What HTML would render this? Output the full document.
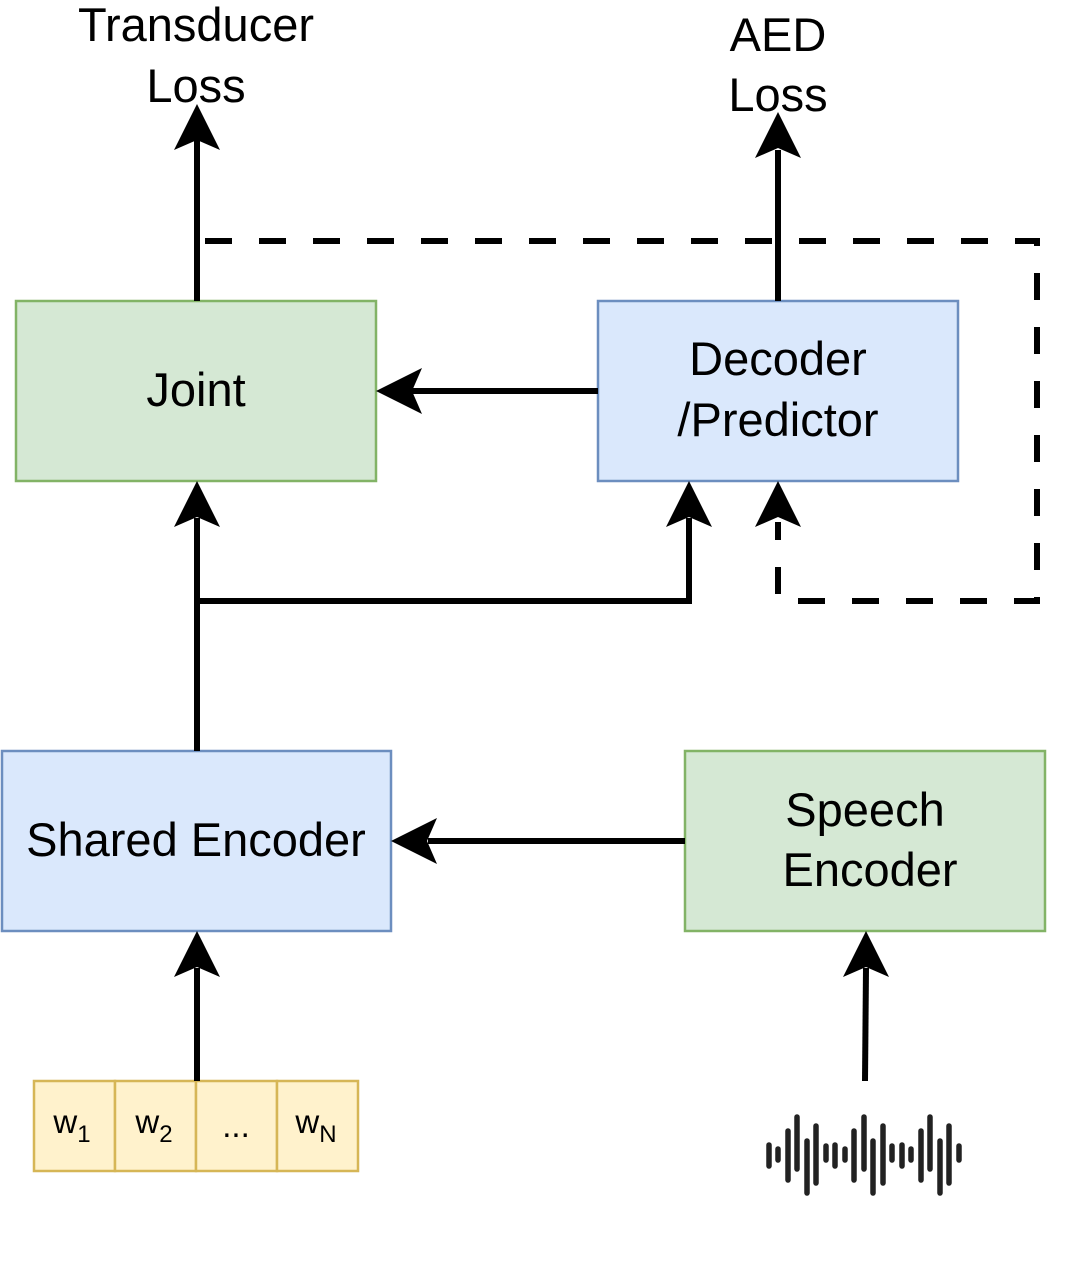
<!DOCTYPE html>
<html><head><meta charset="utf-8"><style>
html,body{margin:0;padding:0;background:#fff;}
svg{display:block;}
text{font-family:"Liberation Sans",Arial,sans-serif;fill:#000;}
</style></head><body>
<svg width="1065" height="1263" viewBox="0 0 1065 1263" xmlns="http://www.w3.org/2000/svg">
<rect x="16" y="301" width="360" height="180" fill="#d5e8d4" stroke="#82b366" stroke-width="2.5"/>
<rect x="598" y="301" width="360" height="180" fill="#dae8fc" stroke="#6c8ebf" stroke-width="2.5"/>
<rect x="2" y="751" width="389" height="180" fill="#dae8fc" stroke="#6c8ebf" stroke-width="2.5"/>
<rect x="685" y="751" width="360" height="180" fill="#d5e8d4" stroke="#82b366" stroke-width="2.5"/>
<g fill="#fff2cc" stroke="#d6b656" stroke-width="2.5">
<rect x="34" y="1081" width="81" height="90"/>
<rect x="115" y="1081" width="81" height="90"/>
<rect x="196" y="1081" width="81" height="90"/>
<rect x="277" y="1081" width="81" height="90"/>
</g>
<g font-size="47" text-anchor="middle">
<text x="196" y="41">Transducer</text>
<text x="196" y="102">Loss</text>
<text x="778" y="51">AED</text>
<text x="778" y="111">Loss</text>
<text x="196" y="406">Joint</text>
<text x="778" y="375">Decoder</text>
<text x="778" y="436">/Predictor</text>
<text x="196" y="856">Shared Encoder</text>
<text x="865" y="826">Speech</text>
<text x="870" y="886">Encoder</text>
</g>
<g font-size="33" text-anchor="middle">
<text x="72" y="1133">w<tspan font-size="24" dy="9">1</tspan></text>
<text x="154" y="1133">w<tspan font-size="24" dy="9">2</tspan></text>
<text x="236" y="1137">...</text>
<text x="316" y="1133">w<tspan font-size="24" dy="9">N</tspan></text>
</g>
<g stroke="#000" stroke-width="6" fill="none">
<line x1="197" y1="301" x2="197" y2="140"/>
<line x1="778" y1="301" x2="778" y2="150"/>
<line x1="598" y1="391" x2="412" y2="391"/>
<line x1="197" y1="751" x2="197" y2="518"/>
<polyline points="197,601 689,601 689,518"/>
<line x1="685" y1="841" x2="428" y2="841"/>
<line x1="197" y1="1081" x2="197" y2="968"/>
<line x1="865" y1="1081" x2="866" y2="968"/>
<path d="M205,241 L1037,241 L1037,601 L778,601 L778,522" stroke-dasharray="27 27"/>
</g>
<g fill="#000">
<polygon points="197,104 220,150 197,140 174,150"/>
<polygon points="778,112 801,158 778,148 755,158"/>
<polygon points="376,391 422,368 412,391 422,414"/>
<polygon points="197,481 220,527 197,517 174,527"/>
<polygon points="689,481 712,527 689,517 666,527"/>
<polygon points="778,481 801,527 778,517 755,527"/>
<polygon points="391,841 437,818 427,841 437,864"/>
<polygon points="197,931 220,977 197,967 174,977"/>
<polygon points="866,931 889,977 866,967 843,977"/>
</g>
<g stroke="#222" stroke-width="5.5" stroke-linecap="round">
<line x1="769" y1="1145" x2="769" y2="1166"/>
<line x1="778" y1="1149" x2="778" y2="1160"/>
<line x1="788" y1="1131" x2="788" y2="1180"/>
<line x1="797" y1="1117" x2="797" y2="1169"/>
<line x1="807" y1="1141" x2="807" y2="1193"/>
<line x1="816" y1="1126" x2="816" y2="1183"/>
<line x1="826" y1="1146" x2="826" y2="1160"/>
<line x1="835" y1="1145" x2="835" y2="1166"/>
<line x1="845" y1="1149" x2="845" y2="1160"/>
<line x1="854" y1="1131" x2="854" y2="1180"/>
<line x1="864" y1="1117" x2="864" y2="1169"/>
<line x1="873" y1="1141" x2="873" y2="1193"/>
<line x1="883" y1="1126" x2="883" y2="1183"/>
<line x1="892" y1="1146" x2="892" y2="1160"/>
<line x1="902" y1="1145" x2="902" y2="1166"/>
<line x1="911" y1="1149" x2="911" y2="1160"/>
<line x1="921" y1="1131" x2="921" y2="1180"/>
<line x1="930" y1="1117" x2="930" y2="1169"/>
<line x1="940" y1="1141" x2="940" y2="1193"/>
<line x1="949" y1="1126" x2="949" y2="1183"/>
<line x1="959" y1="1146" x2="959" y2="1160"/>
</g>
</svg>
</body></html>
